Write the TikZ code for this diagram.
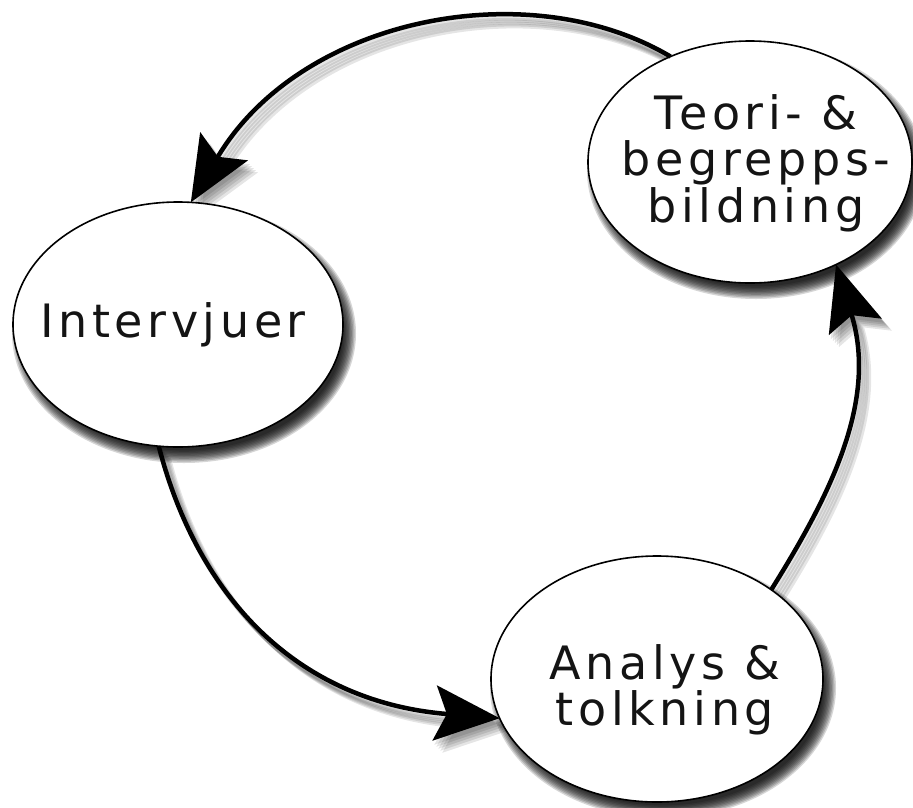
\documentclass[tikz,border=0pt]{standalone}
\usepackage{fontspec}
\newfontfamily\lblfont{DejaVu Sans}[LetterSpace=10]
\usetikzlibrary{shapes.geometric,arrows.meta}
\pgfdeclarelayer{paper}
\pgfdeclarelayer{shadows}
\pgfsetlayers{paper,shadows,main}

\tikzset{
  bubble/.style={ellipse, draw=black, line width=1.6pt, fill=white,
    inner sep=0pt, outer sep=0pt},
  lbl/.style={font=\lblfont\fontsize{46}{46.5}\selectfont, align=center,
    inner sep=0pt, text=black!92},
  flow/.style={line width=4.5pt, -{Stealth[length=65pt,width=55pt,inset=12pt]}},
  shadowring/.style={fill=black, fill opacity=0.16}
}

% soft shadow: stacked translucent ellipses, offset down and to the right
\newcommand\softshadow[3]{%
  \foreach \k in {0,...,9} {
    \fill[shadowring] ([xshift=6pt,yshift=-9pt]#1.center)
      ellipse [x radius={#2+7-1.4*\k}, y radius={#3+7-1.4*\k}];
  }%
}

\begin{document}
\begin{tikzpicture}[x=1pt,y=-1pt]
\begin{pgfonlayer}{paper}
  \fill[white] (0,0) rectangle (913,807);
\end{pgfonlayer}
\useasboundingbox (0,0) rectangle (913,807);

% the three stages of the cycle
\node[bubble, minimum width=330pt, minimum height=245pt] (intv) at (178,324.5) {};
\node[bubble, minimum width=332pt, minimum height=246pt] (anal) at (657,679) {};
\node[bubble, minimum width=324pt, minimum height=242pt] (teori) at (750,162) {};

\node[lbl] (intv-t) at ([xshift=-5pt]intv.center) {Intervjuer};
\node[lbl] (anal-t) at ([xshift=8pt,yshift=-11pt]anal.center) {Analys \&\\tolkning};
\node[lbl] (teori-t) at ([xshift=6pt,yshift=-1pt]teori.center) {Teori- \&\\begrepps-\\bildning};

% connector paths
\def\arcTI{(teori.127) .. controls (528,-28) and (300,18) .. (intv.84)}
\def\arcIA{(intv.261) .. controls (198,598) and (298,702) .. (anal.194)}
\def\arcAT{(anal.38) .. controls (831,494) and (878,400) .. (teori.310)}

\draw[flow] \arcTI;
\draw[flow] \arcIA;
\draw[flow] \arcAT;

% drop shadows under bubbles and connectors
\begin{pgfonlayer}{shadows}
  \softshadow{intv}{165}{122.5}
  \softshadow{anal}{166}{123}
  \softshadow{teori}{162}{121}
  \foreach \dx/\dy in {2/4,4/6,6/8,8/10,10/12} {
    \begin{scope}[transform canvas={shift={(\dx pt,-\dy pt)}}, transparency group, opacity=0.1]
      \draw[flow] \arcTI;
      \draw[flow] \arcIA;
      \draw[flow] \arcAT;
    \end{scope}
  }
\end{pgfonlayer}
\end{tikzpicture}
\end{document}
